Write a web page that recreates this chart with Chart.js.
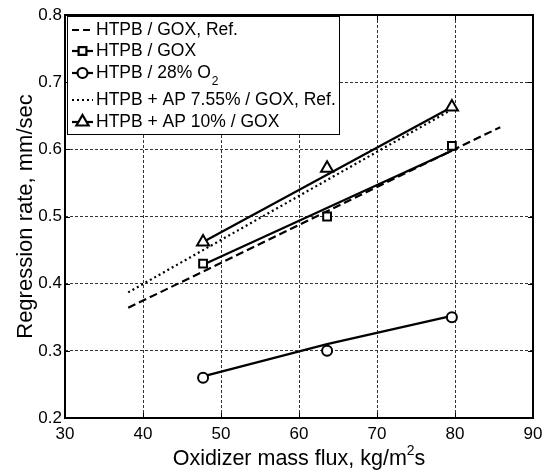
<!DOCTYPE html>
<html lang="en">
    <head>
        <meta charset="UTF-8" />
        <title>Regression rate vs oxidizer mass flux</title>
        <script src="https://cdn.jsdelivr.net/npm/chart.js"></script>
        <style>
            body { margin: 0; background: #fff; }
            #rateChart { display: block; }
        </style>
    </head>
    <body>
        <canvas id="rateChart" width="550" height="473"></canvas>

        <script>
            // measured points (oxidizer mass flux, kg/m^2 s)
            const testFlux = [47.7, 63.6, 79.6];
            const rateGox = [0.43, 0.5, 0.605];
            const rateO2 = [0.26, 0.3, 0.35];
            const rateAp10 = [0.462, 0.572, 0.663];

            // fitted curves through the measured points
            const fitFlux = [47.7, 79.6];
            const fitGox = [0.428, 0.598];
            const fitAp10 = [0.462, 0.663];
            const fitO2Flux = [47.7, 63.6, 79.6];
            const fitO2 = [0.262, 0.31, 0.352];

            // reference correlations
            const refGoxFlux = [38.1, 85.8];
            const refGoxRate = [0.364, 0.633];
            const refApFlux = [38.1, 79.1];
            const refApRate = [0.387, 0.656];

            const xTicks = [30, 40, 50, 60, 70, 80, 90];
            const yTicks = [0.2, 0.3, 0.4, 0.5, 0.6, 0.7, 0.8];

            const FONT = '"Liberation Sans", Arial, Helvetica, sans-serif';
            Chart.defaults.font.family = FONT;
            Chart.defaults.color = "#000";

            const pts = (xs, ys) => xs.map((x, i) => ({ x: x, y: ys[i] }));

            const lineSet = (xs, ys, dash) => ({
                data: pts(xs, ys),
                showLine: true,
                borderColor: "#000",
                borderWidth: 2.2,
                borderDash: dash,
                pointRadius: 0,
                order: 2,
            });

            const markerSet = (ys, style, r) => ({
                data: pts(testFlux, ys),
                showLine: false,
                pointStyle: style,
                pointRadius: r,
                pointBorderWidth: 2,
                pointBorderColor: "#000",
                pointBackgroundColor: "#fff",
                order: 1,
            });

            const legendRows = [
                { text: "HTPB / GOX, Ref.", dash: [7, 4], marker: null },
                { text: "HTPB / GOX", dash: [], marker: "rect", r: 5.5 },
                { text: "HTPB / 28% O", sub: "2", dash: [], marker: "circle", r: 5 },
                { text: "HTPB + AP 7.55% / GOX, Ref.", dash: [2, 3], marker: null },
                { text: "HTPB + AP 10% / GOX", dash: [], marker: "triangle", r: 7 },
            ];
            const legendRowY = [30, 51, 73, 100, 122];

            const frame = {
                id: "frame",
                afterDraw(chart) {
                    const { ctx, chartArea: a, scales } = chart;
                    ctx.save();
                    ctx.strokeStyle = "#000";
                    ctx.lineWidth = 1;
                    // inward ticks on all four sides
                    ctx.beginPath();
                    xTicks.forEach((t) => {
                        const x = Math.round(scales.x.getPixelForValue(t)) + 0.5;
                        ctx.moveTo(x, a.bottom); ctx.lineTo(x, a.bottom - 5);
                        ctx.moveTo(x, a.top); ctx.lineTo(x, a.top + 5);
                    });
                    yTicks.forEach((t) => {
                        const y = Math.round(scales.y.getPixelForValue(t)) + 0.5;
                        ctx.moveTo(a.left, y); ctx.lineTo(a.left + 5, y);
                        ctx.moveTo(a.right, y); ctx.lineTo(a.right - 5, y);
                    });
                    ctx.stroke();
                    ctx.lineWidth = 2;
                    ctx.strokeRect(a.left, a.top, a.right - a.left, a.bottom - a.top);

                    // x axis title with a superscript 2
                    const main = "Oxidizer mass flux, kg/m", tail = "s";
                    ctx.fillStyle = "#000";
                    ctx.textBaseline = "middle";
                    ctx.textAlign = "left";
                    ctx.font = "21.5px " + FONT;
                    const wMain = ctx.measureText(main).width;
                    const wTail = ctx.measureText(tail).width;
                    ctx.font = "14px " + FONT;
                    const wSup = ctx.measureText("2").width;
                    let tx = (a.left + a.right) / 2 - (wMain + wSup + wTail) / 2;
                    const ty = 459;
                    ctx.font = "21.5px " + FONT;
                    ctx.fillText(main, tx, ty);
                    ctx.font = "14px " + FONT;
                    ctx.fillText("2", tx + wMain, ty - 8);
                    ctx.font = "21.5px " + FONT;
                    ctx.fillText(tail, tx + wMain + wSup, ty);

                    // legend box
                    const bx = a.left + 2, by = a.top + 1, bw = 272, bh = 118;
                    ctx.fillStyle = "#fff";
                    ctx.fillRect(bx, by, bw, bh);
                    ctx.lineWidth = 1;
                    ctx.strokeRect(bx + 0.5, by + 0.5, bw, bh);

                    legendRows.forEach((row, i) => {
                        const y = legendRowY[i];
                        ctx.strokeStyle = "#000";
                        ctx.lineWidth = 2.2;
                        ctx.setLineDash(row.dash);
                        ctx.beginPath();
                        ctx.moveTo(bx + 5, y);
                        ctx.lineTo(bx + 26, y);
                        ctx.stroke();
                        ctx.setLineDash([]);
                        if (row.marker) {
                            ctx.fillStyle = "#fff";
                            Chart.helpers.drawPoint(ctx, {
                                pointStyle: row.marker,
                                radius: row.r,
                                rotation: 0,
                                borderWidth: 2,
                            }, bx + 15.5, y);
                        }
                        ctx.fillStyle = "#000";
                        ctx.font = "17.5px " + FONT;
                        ctx.textBaseline = "middle";
                        ctx.textAlign = "left";
                        ctx.fillText(row.text, bx + 29, y);
                        if (row.sub) {
                            const w = ctx.measureText(row.text).width;
                            ctx.font = "12px " + FONT;
                            ctx.fillText(row.sub, bx + 30 + w, y + 9);
                        }
                    });
                    ctx.restore();
                },
            };

            new Chart(document.getElementById("rateChart"), {
                type: "scatter",
                data: {
                    datasets: [
                        markerSet(rateGox, "rect", 5.5),
                        markerSet(rateO2, "circle", 5),
                        markerSet(rateAp10, "triangle", 7),
                        lineSet(refGoxFlux, refGoxRate, [8, 4]),
                        lineSet(fitFlux, fitGox, []),
                        lineSet(fitO2Flux, fitO2, []),
                        lineSet(refApFlux, refApRate, [2, 3]),
                        lineSet(fitFlux, fitAp10, []),
                    ],
                },
                options: {
                    responsive: false,
                    animation: false,
                    layout: { padding: { top: 15, right: 17, left: 0, bottom: 0 } },
                    plugins: {
                        legend: { display: false },
                        tooltip: { enabled: false },
                    },
                    scales: {
                        x: {
                            min: 30,
                            max: 90,
                            afterBuildTicks: (s) => { s.ticks = xTicks.map((v) => ({ value: v })); },
                            afterFit: (s) => { s.height = 55; },
                            grid: { color: "#333", lineWidth: 1, drawTicks: false },
                            border: { display: false, dash: [3, 2] },
                            ticks: { font: { size: 17 }, padding: 6, maxRotation: 0 },
                        },
                        y: {
                            min: 0.2,
                            max: 0.8,
                            afterBuildTicks: (s) => { s.ticks = yTicks.map((v) => ({ value: v })); },
                            afterFit: (s) => { s.width = 65; },
                            grid: { color: "#333", lineWidth: 1, drawTicks: false },
                            border: { display: false, dash: [3, 2] },
                            ticks: {
                                font: { size: 17 },
                                padding: 3,
                                callback: (v) => v.toFixed(1),
                            },
                            title: {
                                display: true,
                                text: "Regression rate, mm/sec",
                                font: { size: 22 },
                                padding: { top: 13 },
                            },
                        },
                    },
                },
                plugins: [frame],
            });
        </script>
    </body>
</html>
